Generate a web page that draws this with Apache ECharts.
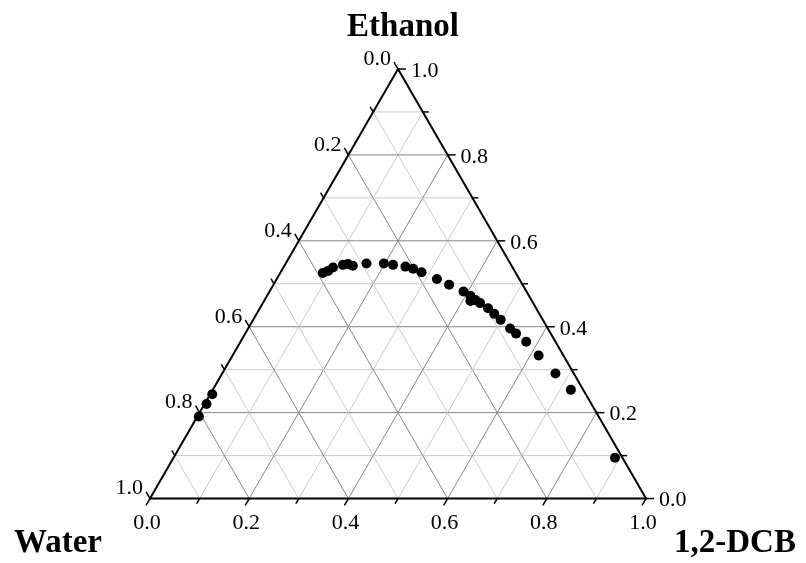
<!DOCTYPE html>
<html><head><meta charset="utf-8">
<script src="https://cdn.jsdelivr.net/npm/echarts@6/dist/echarts.min.js"></script>
<style>html,body{margin:0;padding:0;background:#fff}#c{width:806px;height:563px}</style>
</head><body><div id="c"></div>
<script>
// Ternary data: mass fractions (Ethanol, 1,2-DCB); Water = 1 - Ethanol - DCB
const ethanol = [0.525,0.530,0.538,0.544,0.546,0.542,0.547,0.547,0.544,0.540,0.535,0.527,0.511,0.498,0.482,0.472,0.460,0.462,0.455,0.443,0.430,0.416,0.396,0.384,0.365,0.333,0.291,0.253,0.095,0.191,0.220,0.243];
const dcb     = [0.086,0.094,0.100,0.117,0.126,0.138,0.163,0.198,0.218,0.245,0.263,0.284,0.323,0.354,0.391,0.410,0.416,0.425,0.438,0.460,0.479,0.499,0.528,0.546,0.576,0.617,0.672,0.722,0.890,0.003,0.004,0.004];
const water   = ethanol.map((e, i) => +(1 - e - dcb[i]).toFixed(3));

const gridValues = [0.1,0.2,0.3,0.4,0.5,0.6,0.7,0.8,0.9];
const tickValues = [0,0.1,0.2,0.3,0.4,0.5,0.6,0.7,0.8,0.9,1.0];
const majorTicks = [0,0.2,0.4,0.6,0.8,1.0];
const tickLabels = ['0.0','0.2','0.4','0.6','0.8','1.0'];
const titleTop = 'Ethanol', titleLeft = 'Water', titleRight = '1,2-DCB';

const S = Math.sqrt(3) / 2;
// ternary (dcb, ethanol) -> cartesian
function toXY(d, e) { return [d + e / 2, e * S]; }
function isMajor(v) { return Math.abs(v * 5 - Math.round(v * 5)) < 1e-6; }

const FONT = '"Liberation Serif","Times New Roman",serif';

// grid lines: [d1,e1,d2,e2,major]
const gridLines = [];
gridValues.forEach(v => {
  const m = isMajor(v) ? 1 : 0;
  gridLines.push([0, v, 1 - v, v, m]);       // constant ethanol
  gridLines.push([v, 0, v, 1 - v, m]);       // constant dcb
  gridLines.push([1 - v, 0, 0, 1 - v, m]);   // constant water
});
const border = [[0,0,1,0],[1,0,0,1],[0,1,0,0]];

// ticks: [axis, value]; axis 0=DCB(bottom),1=Ethanol(right),2=Water(left)
const ticks = [];
[0,1,2].forEach(a => tickValues.forEach(v => ticks.push([a, v])));

function tickGeom(api, a, v) {
  let p, dir;
  if (a === 0) { p = api.coord(toXY(v, 0)); dir = [-0.5, S]; }
  else if (a === 1) { p = api.coord(toXY(1 - v, v)); dir = [1, 0]; }
  else { p = api.coord(toXY(0, 1 - v)); dir = [-0.5, -S]; }
  return { p, dir };
}

const chart = echarts.init(document.getElementById('c'), null, { renderer: 'canvas' });
chart.setOption({
  animation: false,
  backgroundColor: '#fff',
  grid: { left: 150, top: 69, width: 496, height: 496 * S },
  xAxis: { type: 'value', min: 0, max: 1, show: false },
  yAxis: { type: 'value', min: 0, max: S, show: false },
  graphic: [
    { type: 'text', x: 403, y: 27, style: { text: titleTop, font: 'bold 33px ' + FONT, fill: '#000', align: 'center', verticalAlign: 'middle' } },
    { type: 'text', x: 58, y: 543, style: { text: titleLeft, font: 'bold 33px ' + FONT, fill: '#000', align: 'center', verticalAlign: 'middle' } },
    { type: 'text', x: 735, y: 543, style: { text: titleRight, font: 'bold 33px ' + FONT, fill: '#000', align: 'center', verticalAlign: 'middle' } }
  ],
  series: [
    {
      type: 'custom', silent: true, z: 1,
      data: gridLines,
      renderItem: (params, api) => {
        const p1 = api.coord(toXY(api.value(0), api.value(1)));
        const p2 = api.coord(toXY(api.value(2), api.value(3)));
        return { type: 'line', shape: { x1: p1[0], y1: p1[1], x2: p2[0], y2: p2[1] },
          style: { stroke: api.value(4) ? '#858585' : '#cccccc', lineWidth: 1 } };
      }
    },
    {
      type: 'custom', silent: true, z: 3,
      data: border,
      renderItem: (params, api) => {
        const p1 = api.coord(toXY(api.value(0), api.value(1)));
        const p2 = api.coord(toXY(api.value(2), api.value(3)));
        return { type: 'line', shape: { x1: p1[0], y1: p1[1], x2: p2[0], y2: p2[1] },
          style: { stroke: '#000', lineWidth: 2, lineCap: 'round' } };
      }
    },
    {
      type: 'custom', silent: true, z: 3,
      data: ticks,
      renderItem: (params, api) => {
        const a = api.value(0), v = api.value(1);
        const g = tickGeom(api, a, v);
        const major = isMajor(v);
        const len = major ? 8 : 6;
        const end = [g.p[0] + g.dir[0] * len, g.p[1] + g.dir[1] * len];
        const children = [{ type: 'line', shape: { x1: g.p[0], y1: g.p[1], x2: end[0], y2: end[1] },
          style: { stroke: '#000', lineWidth: 1.5 } }];
        if (major) {
          const txt = tickLabels[majorTicks.findIndex(t => Math.abs(t - v) < 1e-6)];
          let st;
          if (a === 0) st = { x: end[0] + 1, y: end[1] + 18, align: 'center', verticalAlign: 'middle' };
          else if (a === 1) st = { x: end[0] + 5, y: end[1] + 2, align: 'left', verticalAlign: 'middle' };
          else st = { x: end[0] - 3, y: end[1] - 3, align: 'right', verticalAlign: 'middle' };
          children.push({ type: 'text', style: Object.assign({ text: txt, font: '22px ' + FONT, fill: '#000' }, st) });
        }
        return { type: 'group', children };
      }
    },
    {
      type: 'scatter', z: 5,
      symbol: 'circle', symbolSize: 10,
      itemStyle: { color: '#000', opacity: 1 },
      data: ethanol.map((e, i) => toXY(dcb[i], e))
    }
  ]
});
</script>
</body></html>
